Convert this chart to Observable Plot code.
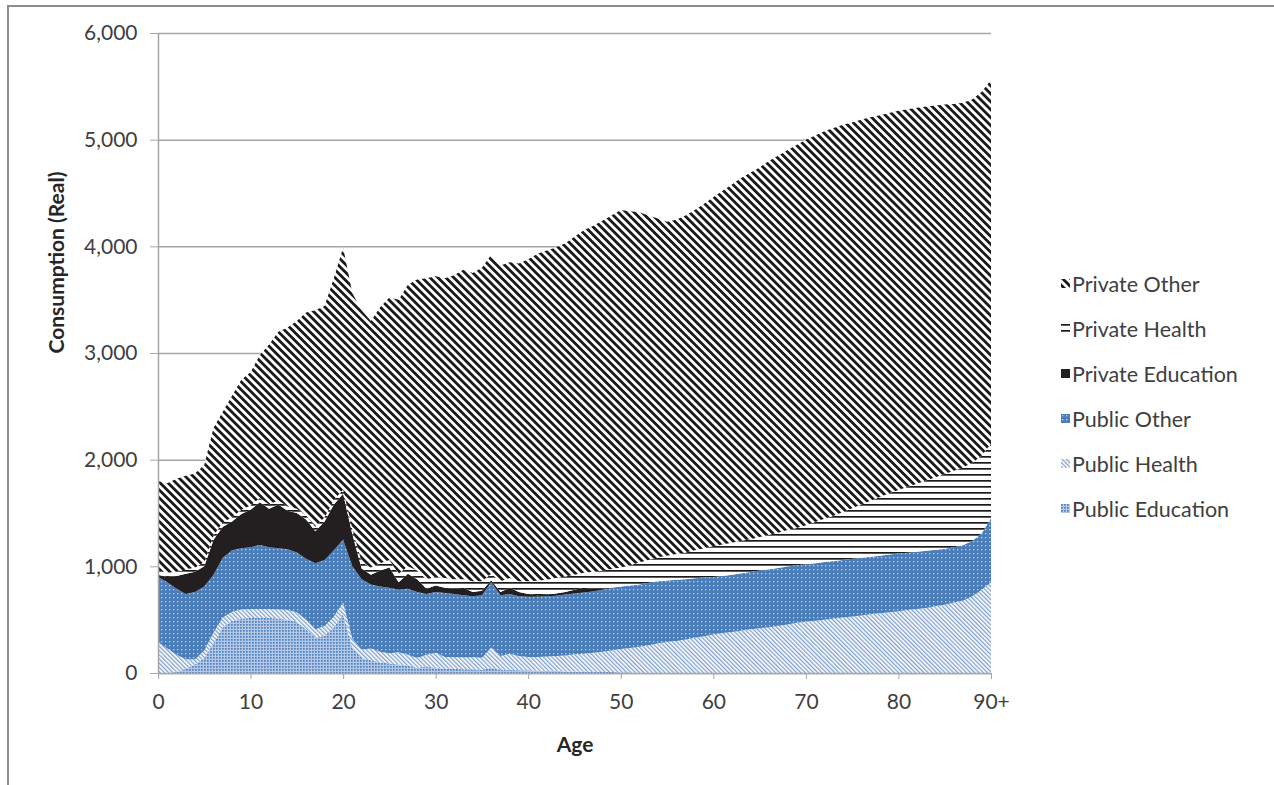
<!DOCTYPE html>
<html><head><meta charset="utf-8">
<script src="https://cdn.jsdelivr.net/npm/d3@7"></script>
<script src="https://cdn.jsdelivr.net/npm/@observablehq/plot@0.6"></script>
<style>
body{margin:0;background:#fff;font-family:Lato,"Open Sans",sans-serif;}
#wrap{position:relative;width:1274px;height:785px;overflow:hidden;background:#fff;}
#frame{position:absolute;left:7px;top:5px;width:1400px;height:900px;border-left:2px solid #8c8c8c;border-top:2px solid #8c8c8c;}
#chart{position:absolute;left:0;top:0;}
#legend{position:absolute;left:1061px;top:261px;}
.item{display:flex;align-items:center;height:45px;font-size:21.5px;color:#404040;white-space:nowrap;}
.item svg{margin-right:2px;flex:none;}
</style></head>
<body>
<svg width="0" height="0" style="position:absolute">
<defs>
<pattern id="pat-pe" patternUnits="userSpaceOnUse" width="3" height="3">
<rect width="3" height="3" fill="#b3c7e6"/><rect width="1.7" height="1.7" fill="#4f81bd"/>
</pattern>
<pattern id="pat-ph" patternUnits="userSpaceOnUse" width="3" height="3" patternTransform="rotate(-45)">
<rect width="3" height="3" fill="#ffffff"/><rect width="1.3" height="3" fill="#7f9fd0"/>
</pattern>
<pattern id="pat-po" patternUnits="userSpaceOnUse" width="4" height="4">
<rect width="4" height="4" fill="#4a7ebb"/><rect x="1" y="1" width="1.3" height="1.3" fill="#c0d1ea"/>
</pattern>
<pattern id="pat-pre" patternUnits="userSpaceOnUse" width="4" height="4">
<rect width="4" height="4" fill="#231f20"/>
</pattern>
<pattern id="pat-prh" patternUnits="userSpaceOnUse" width="6" height="6">
<rect width="6" height="6" fill="#ffffff"/><rect width="6" height="1.7" fill="#1a1a1a"/>
</pattern>
<pattern id="pat-pro" patternUnits="userSpaceOnUse" width="5.6" height="5.6" patternTransform="rotate(-45)">
<rect width="5.6" height="5.6" fill="#ffffff"/><rect width="2.8" height="5.6" fill="#1a1a1a"/>
</pattern>
</defs>
</svg>
<div id="wrap"><div id="frame"></div><div id="chart"></div><div id="legend"></div></div>
<script>
const ages = [0,1,2,3,4,5,6,7,8,9,10,11,12,13,14,15,16,17,18,19,20,21,22,23,24,25,26,27,28,29,30,31,32,33,34,35,36,37,38,39,40,41,42,43,44,45,46,47,48,49,50,51,52,53,54,55,56,57,58,59,60,61,62,63,64,65,66,67,68,69,70,71,72,73,74,75,76,77,78,79,80,81,82,83,84,85,86,87,88,89,90];

const publicEducation = [0,0,10,40,80,140,280,430,490,510, 515,515,515,510,500,480,410,330,350,430, 550,230,140,120,100,90,80,70,50,60, 50,40,40,35,35,30,50,30,30,25, 25,20,20,20,15,15,15,10,10,10, 5,5,0,0,0,0,0,0,0,0, 0,0,0,0,0,0,0,0,0,0, 0,0,0,0,0,0,0,0,0,0, 0,0,0,0,0,0,0,0,0,0, 0];
const publicHealth = [290,230,160,90,50,70,100,90,85,85, 85,85,85,85,90,90,90,80,90,100, 110,90,80,110,100,95,115,100,90,110, 140,110,110,110,115,110,190,130,150,135, 125,130,135,140,150,160,165,180,190,200, 220,230,245,260,280,290,300,315,330,345, 360,375,385,395,410,420,430,440,455,470, 480,490,500,510,520,530,540,550,560,570, 580,590,600,610,625,640,660,680,720,780, 850];
const publicOther = [610,620,620,610,630,600,540,560,575,575, 580,600,580,575,570,560,570,620,620,620, 590,680,660,600,610,615,585,620,620,570, 570,600,590,585,570,590,610,570,560,560, 565,565,565,565,570,570,575,575,580,585, 585,585,585,585,580,578,575,565,558,550, 540,535,537,540,538,540,542,545,543,540, 540,540,540,540,540,540,540,540,540,540, 540,538,536,535,530,525,520,520,520,530, 600];
const privateEducation = [20,50,120,190,190,190,330,290,270,320, 350,400,360,410,360,370,370,300,360,430, 430,300,100,90,150,190,70,140,120,50, 60,50,50,70,40,40,20,30,60,40, 25,15,15,20,25,35,45,25,10,5, 0,0,0,0,0,0,0,0,0,0, 0,0,0,0,0,0,0,0,0,0, 0,0,0,0,0,0,0,0,0,0, 0,0,0,0,0,0,0,0,0,0, 0];
const privateHealth = [40,40,40,40,40,40,40,40,40,40, 40,40,40,40,40,40,40,40,40,40, 40,50,60,70,70,70,80,70,80,90, 80,90,90,80,100,90,60,100,90,100, 120,135,140,145,145,140,140,160,170,175, 180,190,205,215,225,232,240,250,262,275, 290,295,298,305,307,315,323,330,342,350, 365,385,405,425,450,475,500,525,550,575, 595,617,639,660,680,700,715,730,730,730, 700];
const privateOther = [840,840,870,880,880,910,1010,1040,1140,1220, 1250,1340,1500,1580,1680,1760,1900,2030,1980,2080, 2270,2210,2360,2310,2400,2460,2570,2640,2730,2820, 2820,2810,2850,2900,2890,2940,2990,2960,2960,2980, 3020,3065,3085,3100,3125,3170,3210,3240,3280,3315, 3350,3320,3285,3230,3175,3130,3135,3160,3190,3230, 3270,3315,3360,3400,3435,3465,3505,3535,3560,3590, 3615,3625,3635,3635,3630,3615,3610,3595,3580,3565, 3555,3540,3525,3505,3485,3465,3440,3415,3410,3410, 3410];

// stacking order: bottom to top
const seriesNames = ["Public Education","Public Health","Public Other","Private Education","Private Health","Private Other"];
const seriesValues = [publicEducation, publicHealth, publicOther, privateEducation, privateHealth, privateOther];
const seriesFills = ["url(#pat-pe)","url(#pat-ph)","url(#pat-po)","url(#pat-pre)","url(#pat-prh)","url(#pat-pro)"];
const xTicks = [0,10,20,30,40,50,60,70,80,90];
const xTickLabels = ["0","10","20","30","40","50","60","70","80","90+"];
const yTicks = [0,1000,2000,3000,4000,5000,6000];
const legendOrder = ["Private Other","Private Health","Private Education","Public Other","Public Health","Public Education"];

const rows = [];
seriesNames.forEach((name, si) => {
  ages.forEach((age, i) => rows.push({age, series: name, value: seriesValues[si][i]}));
});

const fontFamily = "Lato, 'Open Sans', sans-serif";
const chart = Plot.plot({
  width: 1274, height: 785,
  marginLeft: 158, marginRight: 283, marginTop: 33, marginBottom: 112,
  style: {fontFamily, fontSize: "21px", color: "#404040", background: "transparent"},
  x: {domain: [0, 90]},
  y: {domain: [0, 6000]},
  color: {domain: seriesNames, range: seriesFills},
  marks: [
    Plot.gridY(yTicks, {stroke: "#a6a6a6", strokeOpacity: 1, strokeWidth: 1.5}),
    Plot.areaY(rows, Plot.stackY({x: "age", y: "value", z: "series", fill: "series", order: seriesNames})),
    Plot.ruleY([0], {stroke: "#a6a6a6", strokeWidth: 1.5}),
    Plot.ruleX([0], {stroke: "#a6a6a6", strokeWidth: 1.5}),
    Plot.axisY({ticks: yTicks, tickSize: 8, tickPadding: 13, stroke: "#a6a6a6", label: null, tickFormat: d => d3.format(",")(d)}),
    Plot.axisX({ticks: xTicks, tickSize: 6, tickPadding: 15, stroke: "#a6a6a6", label: null, tickFormat: d => xTickLabels[xTicks.indexOf(d)]}),
    Plot.text(["Age"], {frameAnchor: "bottom", dy: 78, fontWeight: "bold", fontSize: 21, fill: "#262626"}),
    Plot.text(["Consumption (Real)"], {frameAnchor: "left", dx: -101, rotate: -90, fontWeight: "bold", fontSize: 21, fill: "#262626"})
  ]
});
document.getElementById("chart").appendChild(chart);

const legend = d3.select("#legend");
legendOrder.forEach(name => {
  const i = seriesNames.indexOf(name);
  const item = legend.append("div").attr("class", "item");
  const s = item.append("svg").attr("width", 9).attr("height", 9);
  s.append("rect").attr("width", 9).attr("height", 9).attr("fill", seriesFills[i]);
  item.append("span").text(name);
});
</script>
</body></html>
